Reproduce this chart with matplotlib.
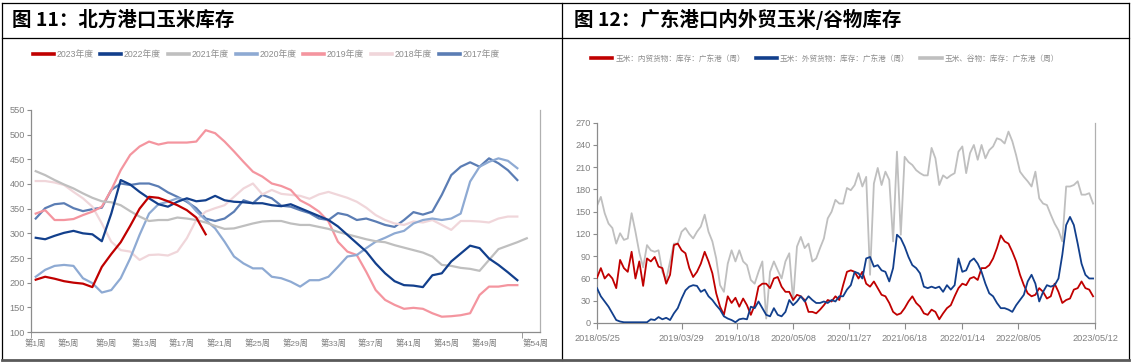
import numpy as np
import pandas as pd
import matplotlib
matplotlib.use("Agg")
import matplotlib.pyplot as plt
from matplotlib import font_manager
from matplotlib.lines import Line2D

plt.rcParams['font.family'] = ['Noto Sans CJK SC', 'DejaVu Sans']
_installed = {f.name for f in font_manager.fontManager.ttflist}
if 'Liberation Sans Narrow' in _installed:
    NUM = ['Liberation Sans Narrow', 'Noto Sans CJK SC', 'DejaVu Sans']
    NUM_SIZE = 7.5
else:
    NUM = ['Liberation Sans', 'Noto Sans CJK SC', 'DejaVu Sans']
    NUM_SIZE = 6.6
TICK_GRAY = '#7f7f7f'
W, H = 1132, 364

# ─── 图11 北方港口玉米库存 (周度, 万吨) ────────────────────────────────────────
yr2023 = [206, 212, 208, 203, 200, 198, 191, 232, 258, 282,
          315, 350, 374, 372, 365, 357, 347, 332, 298]
yr2022 = [291, 288, 295, 301, 305, 300, 298, 284, 340, 408,
          399, 384, 371, 359, 354, 364, 371, 365, 367, 376,
          367, 364, 363, 361, 361, 357, 355, 359, 351, 343,
          335, 327, 314, 297, 280, 263, 239, 219, 203, 195,
          194, 191, 215, 219, 243, 259, 275, 270, 249, 236,
          221, 205]
yr2021 = [426, 418, 408, 399, 391, 381, 372, 365, 363, 357,
          345, 334, 325, 327, 327, 332, 330, 327, 322, 315,
          309, 310, 315, 320, 324, 325, 325, 320, 317, 317,
          313, 309, 303, 298, 293, 288, 284, 282, 276, 271,
          266, 261, 253, 236, 234, 230, 228, 224, 246, 268,
          275, 282, 290]
yr2020 = [212, 226, 234, 236, 234, 209, 199, 180, 185, 209,
          249, 297, 340, 359, 364, 371, 367, 345, 327, 310,
          283, 253, 239, 229, 229, 212, 209, 202, 192, 205,
          205, 212, 232, 253, 256, 270, 283, 291, 300, 305,
          320, 327, 330, 327, 330, 340, 405, 435, 445, 452,
          447, 432]
yr2019 = [340, 347, 327, 327, 329, 337, 344, 354, 388, 428,
          459, 476, 486, 480, 484, 484, 484, 486, 509, 503,
          486, 466, 445, 425, 415, 401, 396, 388, 367, 357,
          344, 324, 283, 263, 256, 222, 185, 165, 155, 147,
          149, 147, 138, 131, 132, 134, 138, 175, 192, 192,
          195, 195]
yr2018 = [406, 406, 403, 398, 384, 371, 354, 320, 283, 266,
          263, 246, 256, 257, 255, 263, 290, 327, 344, 351,
          357, 374, 391, 401, 379, 388, 380, 378, 376, 370,
          379, 384, 378, 372, 364, 352, 337, 327, 320, 317,
          324, 322, 327, 317, 307, 325, 325, 324, 322, 330,
          334, 334]
yr2017 = [330, 351, 359, 361, 351, 345, 349, 352, 388, 401,
          398, 401, 401, 395, 383, 374, 364, 351, 330, 325,
          330, 344, 367, 361, 378, 371, 356, 354, 347, 341,
          330, 327, 341, 337, 327, 330, 324, 317, 313, 327,
          343, 338, 344, 378, 418, 435, 444, 435, 452, 442,
          428, 408]

years = ["2023年度", "2022年度", "2021年度", "2020年度", "2019年度", "2018年度", "2017年度"]
year_series = [yr2023, yr2022, yr2021, yr2020, yr2019, yr2018, yr2017]
year_colors = ["#c00000", "#123f8c", "#bfbfbf", "#8eaad3", "#f4959f", "#f0d6da", "#5b7db4"]
week_labels = ["第1周", "第5周", "第9周", "第13周", "第17周", "第21周", "第25周",
               "第29周", "第33周", "第37周", "第41周", "第45周", "第49周", "第54周"]

# ─── 图12 广东港口内外贸玉米/谷物库存 (两周取样, 万吨) ──────────────────────────
gd_start = "2018-05-25"
gd_dates = pd.date_range(gd_start, periods=130, freq="14D")
gd_domestic = [61, 74, 60, 66, 60, 47, 85, 74, 69, 96,
               60, 83, 50, 87, 83, 89, 76, 74, 53, 65,
               105, 107, 98, 94, 74, 62, 69, 80, 96, 83,
               67, 40, 22, 11,
               36, 27, 34, 22, 33, 24, 11, 24, 49, 53,
               53, 47, 60, 62, 49, 42, 42, 31, 38, 36,
               31, 15, 15, 13, 18, 24, 31, 29, 36, 31,
               51, 69,
               71, 69, 60, 69, 53, 49, 56, 47, 38, 36,
               27, 15, 11, 13, 20, 29, 36, 27, 22, 13,
               11, 18, 15, 5, 13, 20, 24, 36, 47, 53,
               51, 60, 62,
               58, 74, 74, 78, 87, 101, 118, 110, 107, 96,
               83, 65, 51, 40, 36, 38, 47, 42, 33, 36,
               53, 42, 27, 31, 33, 45, 47, 56, 47, 45,
               36]
gd_foreign = [47, 36, 29, 22, 13, 4, 2, 1, 1, 1,
              1, 1, 1, 1, 5, 4, 8, 5, 7, 4,
              13, 20, 33, 44, 49, 51, 50, 42, 45, 36,
              31, 24, 18, 9,
              6, 4, 1, 5, 6, 5, 22, 20, 29, 20,
              11, 9, 20, 11, 9, 15, 31, 24, 29, 36,
              29, 36, 31, 27, 27, 29, 27, 31, 29, 36,
              36, 45,
              51, 69, 67, 60, 87, 89, 76, 78, 71, 69,
              56, 74, 119, 114, 103, 89, 78, 74, 67, 49,
              47, 49, 47, 49, 42, 51, 45, 51, 87, 69,
              71, 83, 87,
              80, 69, 53, 40, 36, 27, 20, 20, 18, 15,
              24, 31, 38, 56, 65, 53, 29, 42, 51, 49,
              51, 60, 92, 132, 143, 132, 107, 80, 65, 60,
              60]
gd_grain = [158, 170, 148, 134, 128, 107, 121, 112, 114, 148,
            123, 95, 75, 105, 98, 96, 98, 69, 58, 83,
            107, 107, 123, 128, 120, 114, 123, 130, 146, 123,
            110, 87, 51, 42,
            80, 98, 83, 98, 83, 78, 58, 53, 69, 83,
            6, 69, 83, 71, 60, 83, 94, 30, 103, 116,
            101, 107, 83, 87, 101, 114, 141, 150, 166, 161,
            161, 182,
            179, 186, 202, 184, 197, 65, 188, 209, 186, 204,
            193, 110, 231, 119, 224, 217, 213, 206, 202, 199,
            199, 236, 222, 186, 199, 195, 199, 202, 231, 238,
            202, 229, 240,
            220, 240, 222, 233, 238, 249, 247, 242, 258, 245,
            226, 204, 197, 191, 184, 204, 168, 161, 159, 146,
            134, 125, 110, 184, 184, 186, 191, 173, 173, 175,
            161]
gd_labels = ["玉米：内贸货物：库存：广东港（周）", "玉米：外贸货物：库存：广东港（周）",
             "玉米、谷物：库存：广东港（周）"]
gd_colors = ["#c00000", "#123f8c", "#bfbfbf"]
gd_ticks = ["2018/05/25", "2019/03/29", "2019/10/18", "2020/05/08", "2020/11/27",
            "2021/06/18", "2022/01/14", "2022/08/05", "2023/05/12"]


def fx(x):
    return x / W


def fy(y):
    return 1 - y / H


def style_axes(ax):
    for side in ["left", "bottom"]:
        ax.spines[side].set_color("#8c8c8c")
        ax.spines[side].set_linewidth(0.9)
    ax.spines["right"].set_color("#b0b0b0")
    ax.spines["right"].set_linewidth(0.9)
    ax.spines["top"].set_visible(False)
    ax.tick_params(axis="y", direction="out", length=3, color="#8c8c8c",
                   labelcolor=TICK_GRAY, pad=1.5)
    for lab in ax.get_yticklabels():
        lab.set_family(NUM)
        lab.set_fontsize(NUM_SIZE)


fig = plt.figure(figsize=(W / 100, H / 100), dpi=100)

# ── frame / title bars ──────────────────────────────────────────────────
frame = dict(transform=fig.transFigure, color="black", linewidth=0.9)
fig.add_artist(Line2D([fx(2), fx(1129)], [fy(3), fy(3)], **frame))
fig.add_artist(Line2D([fx(2), fx(1129)], [fy(38), fy(38)], **frame))
fig.add_artist(Line2D([fx(2), fx(2)], [fy(3), fy(360)], **frame))
fig.add_artist(Line2D([fx(562), fx(562)], [fy(3), fy(360)], **frame))
fig.add_artist(Line2D([fx(1129), fx(1129)], [fy(3), fy(360)], **frame))
fig.add_artist(Line2D([fx(2), fx(1129)], [fy(360), fy(360)],
                      transform=fig.transFigure, color="#595959", linewidth=2))

fig.text(fx(12), fy(20), "图 11：北方港口玉米库存", fontsize=14, fontweight="bold",
         va="center", ha="left")
fig.text(fx(574), fy(20), "图 12：广东港口内外贸玉米/谷物库存", fontsize=14,
         fontweight="bold", va="center", ha="left")

# ── left chart ──────────────────────────────────────────────────────────
ax1 = fig.add_axes([fx(31), fy(332), fx(540 - 31), (332 - 110) / H])
for name, vals, col in reversed(list(zip(years, year_series, year_colors))):
    weeks = np.arange(1, len(vals) + 1)
    ax1.plot(weeks, vals, color=col, linewidth=1.6, label=name,
             solid_joinstyle="round")
ax1.set_xlim(0.5, 54.4)
ax1.set_ylim(100, 550)
ax1.set_yticks(np.arange(100, 551, 50))
style_axes(ax1)
ax1.set_xticks(np.arange(0.5, 53, 4), minor=True)
label_pos = [1.0] + list(np.arange(4.5, 49, 4)) + [54.0]
ax1.set_xticks(label_pos)
ax1.set_xticklabels(week_labels, family=NUM, fontsize=6, color=TICK_GRAY)
ax1.tick_params(axis="x", which="major", length=0, pad=5)
ax1.tick_params(axis="x", which="minor", direction="out", length=4, color="#8c8c8c")

fig.legend([Line2D([], [], color=c, linewidth=2.6) for c in year_colors],
           years, loc="center", bbox_to_anchor=(fx(266), fy(55)), ncol=7,
           frameon=False, labelcolor="#8c8c8c", handlelength=2.4,
           handletextpad=0.3, columnspacing=0.8,
           prop={"family": NUM, "size": 6.3})

# ── right chart ─────────────────────────────────────────────────────────
ax2 = fig.add_axes([fx(597), fy(323), fx(1095 - 597), (323 - 122.7) / H])
for vals, col, name, z in zip([gd_domestic, gd_foreign, gd_grain], gd_colors,
                              gd_labels, [3, 4, 2]):
    ax2.plot(gd_dates, vals, color=col, linewidth=1.3, label=name, zorder=z)
ax2.set_xlim(pd.Timestamp("2018-05-25"), pd.Timestamp("2023-05-12"))
ax2.set_ylim(0, 270)
ax2.set_yticks(np.arange(0, 271, 30))
style_axes(ax2)
ax2.set_xticks([pd.Timestamp(t.replace("/", "-")) for t in gd_ticks])
ax2.set_xticklabels(gd_ticks, family=NUM, fontsize=NUM_SIZE, color=TICK_GRAY)
ax2.tick_params(axis="x", direction="out", length=4, color="#8c8c8c", pad=4)

fig.legend([Line2D([], [], color=c, linewidth=2.6) for c in gd_colors], gd_labels,
           loc="center", bbox_to_anchor=(fx(825), fy(59)), ncol=3, frameon=False,
           labelcolor="#8c8c8c", handlelength=2.8, handletextpad=0.4,
           columnspacing=1.4, prop={"family": NUM, "size": 5.5})

fig.savefig("out.png", dpi=100)
